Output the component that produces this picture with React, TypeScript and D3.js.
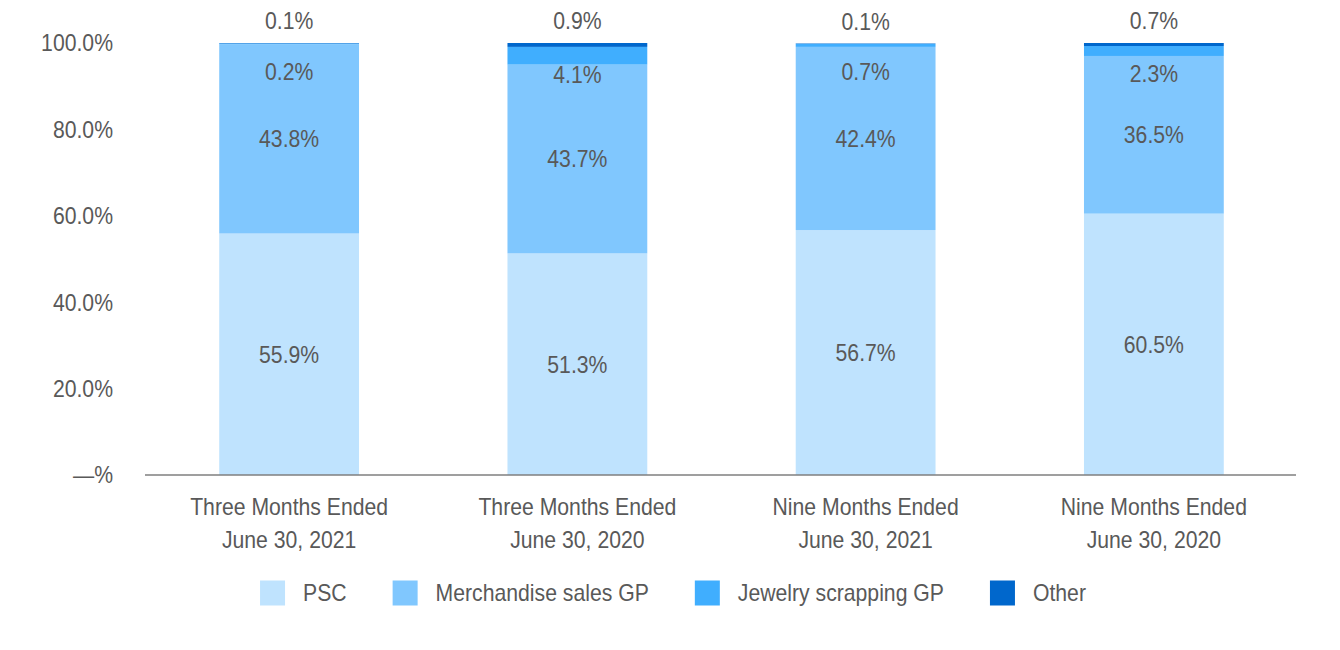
import { useEffect, useRef } from 'react';
import * as d3 from 'd3';

const WIDTH = 1340;
const HEIGHT = 650;
const MARGIN = { top: 43, right: 42, bottom: 175, left: 145 };
const FONT = '"Liberation Sans Narrow", "Arial Narrow", "Liberation Sans", sans-serif';
const TEXT_COLOR = '#595959';
// the original uses a condensed face; squeeze the regular one to match
const SQUEEZE = 0.883;

// periods on the x axis (two lines each)
const periodTop = ['Three Months Ended', 'Three Months Ended', 'Nine Months Ended', 'Nine Months Ended'];
const periodBottom = ['June 30, 2021', 'June 30, 2020', 'June 30, 2021', 'June 30, 2020'];

const seriesNames = ['PSC', 'Merchandise sales GP', 'Jewelry scrapping GP', 'Other'];
const seriesColors = ['#bfe3fe', '#80c7fe', '#40aefe', '#0067cc'];

const psc = [55.9, 51.3, 56.7, 60.5];
const merchandise = [43.8, 43.7, 42.4, 36.5];
const jewelry = [0.2, 4.1, 0.7, 2.3];
const other = [0.1, 0.9, 0.1, 0.7];

const yTicks = [0, 20, 40, 60, 80, 100];

const narrow = (sel: d3.Selection<any, any, any, any>) => {
  sel.each(function () {
    const node = this as SVGTextElement;
    const w = node.getComputedTextLength();
    d3.select(node)
      .attr('textLength', w * SQUEEZE)
      .attr('lengthAdjust', 'spacingAndGlyphs');
  });
};

export default function App() {
  const svgRef = useRef<SVGSVGElement>(null);

  useEffect(() => {
    if (!svgRef.current) return;
    const svg = d3.select(svgRef.current);
    svg.selectAll('*').remove();

    const boundsWidth = WIDTH - MARGIN.left - MARGIN.right;
    const boundsHeight = HEIGHT - MARGIN.top - MARGIN.bottom;

    const rows = psc.map((_v, i) => ({
      key: String(i),
      PSC: psc[i],
      'Merchandise sales GP': merchandise[i],
      'Jewelry scrapping GP': jewelry[i],
      Other: other[i],
    }));

    const stacked = d3.stack<any>().keys(seriesNames)(rows);

    const xScale = d3
      .scaleBand()
      .domain(rows.map(d => d.key))
      .range([0, boundsWidth])
      .paddingInner(0.515)
      .paddingOuter(0.2575);

    const yScale = d3.scaleLinear().domain([0, 100]).range([boundsHeight, 0]);

    const g = svg.append('g').attr('transform', `translate(${MARGIN.left}, ${MARGIN.top})`);

    // stacked bars
    g.selectAll('.layer')
      .data(stacked)
      .join('g')
      .attr('class', 'layer')
      .attr('fill', (_d, i) => seriesColors[i])
      .selectAll('rect')
      .data(d => d)
      .join('rect')
      .attr('x', d => xScale(d.data.key)!)
      .attr('y', d => yScale(d[1]))
      .attr('width', xScale.bandwidth())
      .attr('height', d => yScale(d[0]) - yScale(d[1]));

    const labelText = (v: number) => `${v.toFixed(1)}%`;
    const cx = (d: any) => xScale(d.data.key)! + xScale.bandwidth() / 2;

    // PSC and merchandise labels centred in their segments
    [0, 1].forEach(si => {
      g.selectAll(`.lbl-${si}`)
        .data(stacked[si])
        .join('text')
        .attr('class', `lbl-${si} val`)
        .attr('x', cx)
        .attr('y', d => (yScale(d[0]) + yScale(d[1])) / 2)
        .text(d => labelText(d[1] - d[0]));
    });

    // jewelry labels just under the segment top
    g.selectAll('.lbl-2')
      .data(stacked[2])
      .join('text')
      .attr('class', 'lbl-2 val')
      .attr('x', cx)
      .attr('y', d => yScale(d[1]) + 28)
      .text(d => labelText(d[1] - d[0]));

    // other labels above the bar
    g.selectAll('.lbl-3')
      .data(stacked[3])
      .join('text')
      .attr('class', 'lbl-3 val')
      .attr('x', cx)
      .attr('y', d => yScale(d[1]) - 22)
      .text(d => labelText(d[1] - d[0]));

    // y tick labels
    g.selectAll('.ytick')
      .data(yTicks)
      .join('text')
      .attr('class', 'ytick')
      .attr('x', -32)
      .attr('y', d => yScale(d))
      .attr('text-anchor', 'end')
      .text(d => (d === 0 ? '—%' : `${d.toFixed(1)}%`));

    // baseline
    g.append('line')
      .attr('x1', 0)
      .attr('x2', boundsWidth - 2)
      .attr('y1', yScale(0))
      .attr('y2', yScale(0))
      .attr('stroke', '#7f7f7f')
      .attr('stroke-width', 1.5);

    // x labels, two lines
    [periodTop, periodBottom].forEach((lines, li) => {
      g.selectAll(`.xlabel-${li}`)
        .data(lines)
        .join('text')
        .attr('class', `xlabel-${li}`)
        .attr('x', (_d, i) => xScale(String(i))! + xScale.bandwidth() / 2)
        .attr('y', boundsHeight + 32 + li * 33)
        .text(d => d);
    });

    g.selectAll('text')
      .attr('dy', '0.35em')
      .style('font-family', FONT)
      .style('font-size', '24px')
      .style('fill', TEXT_COLOR);
    g.selectAll('text:not(.ytick)').attr('text-anchor', 'middle');
    narrow(g.selectAll('text'));

    // legend
    const legend = svg.append('g');
    const items = legend.selectAll('g').data(seriesNames).join('g');
    items
      .append('rect')
      .attr('width', 25)
      .attr('height', 25)
      .attr('y', -12.5)
      .attr('fill', (_d, i) => seriesColors[i]);
    items
      .append('text')
      .attr('x', 43)
      .attr('dy', '0.35em')
      .style('font-family', FONT)
      .style('font-size', '24px')
      .style('fill', TEXT_COLOR)
      .text(d => d);
    narrow(items.selectAll('text'));

    // text widths are read after squeezing
    const gap = 46;
    let offset = 0;
    const offsets: number[] = [];
    items.each(function () {
      offsets.push(offset);
      const t = d3.select(this).select('text').node() as SVGTextElement;
      offset += 43 + +t.getAttribute('textLength')! + gap;
    });
    const total = offset - gap;
    const legendCenter = 673;
    items.attr('transform', (_d, i) => `translate(${offsets[i]}, 0)`);
    legend.attr('transform', `translate(${legendCenter - total / 2}, 593)`);
  }, []);

  return (
    <svg
      ref={svgRef}
      width={WIDTH}
      height={HEIGHT}
      style={{ position: 'absolute', left: 0, top: 0, background: '#fff' }}
    />
  );
}
